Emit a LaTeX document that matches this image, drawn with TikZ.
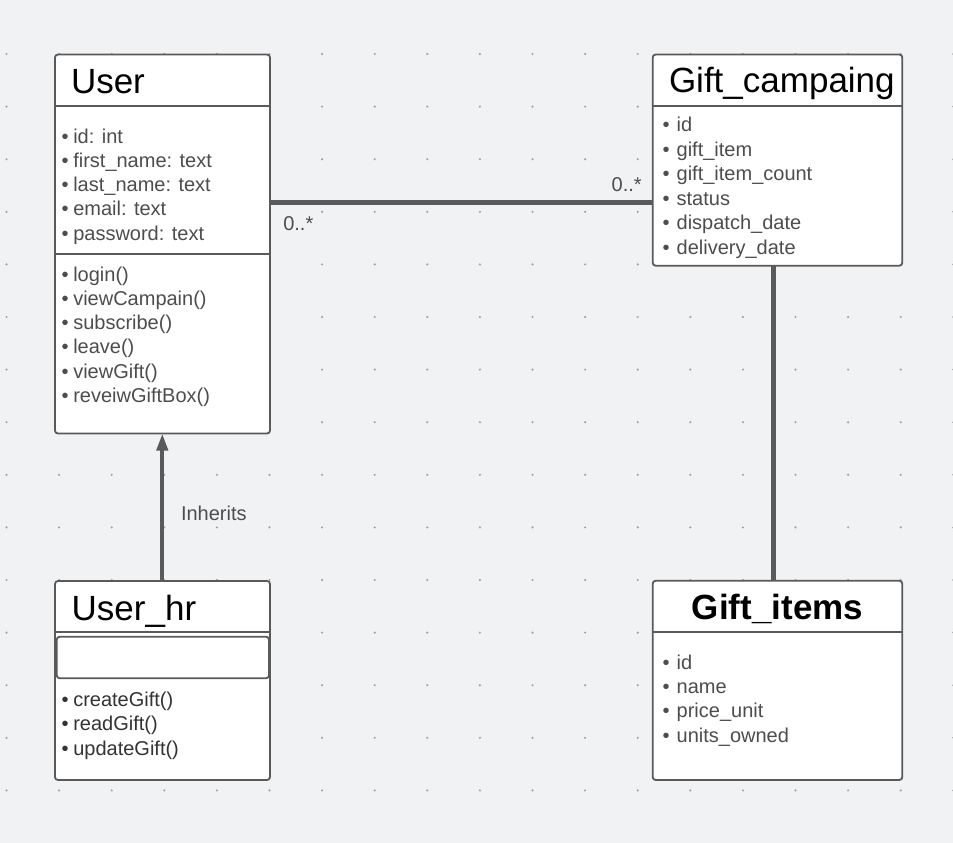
\documentclass[tikz,border=0pt]{standalone}
\usepackage{fontspec}
\setmainfont{Liberation Sans}
\usetikzlibrary{arrows.meta,calc}
\definecolor{bg}{HTML}{F1F2F4}
\definecolor{edge}{HTML}{5A5A5A}
\definecolor{dotc}{HTML}{A3A3A3}
\definecolor{txt}{HTML}{4D4D4D}
\definecolor{txtdark}{HTML}{333333}
\begin{document}
\begin{tikzpicture}[x=1pt,y=-1pt,
 classbox/.style={draw=edge,line width=1.8pt,fill=white,rounded corners=3pt,inner sep=0pt,outer sep=0pt,anchor=north west},
 sep/.style={draw=edge,line width=1.8pt},
 title/.style={anchor=base west,inner sep=0pt,outer sep=0pt,font=\fontsize{35}{40}\selectfont,text=black},
 item/.style={anchor=base west,inner sep=0pt,outer sep=0pt,font=\fontsize{20}{24}\selectfont,text=txt},
 conn/.style={draw=edge,line width=4.5pt},
]
\fill[bg] (0,0) rectangle (953,843);
\useasboundingbox (0,0) rectangle (953,843);
\foreach \i in {0,...,18} \foreach \j in {0,...,14} \fill[dotc] (6.5+52.6*\i, 54+52.6*\j) circle (1.2);

% boxes
\node[classbox,minimum width=215pt,minimum height=379pt] (user) at (55,54.5) {};
\node[classbox,minimum width=249.6pt,minimum height=211.2pt] (camp) at (652.7,54.5) {};
\node[classbox,minimum width=249.6pt,minimum height=199.3pt] (items) at (652.7,580.7) {};
\node[classbox,minimum width=215pt,minimum height=199pt] (hr) at (55,581) {};
\node[classbox,minimum width=212.3pt,minimum height=41.6pt] (hrattr) at (56.7,636.7) {};

% separators
\draw[sep] ($(user.north west)+(0,51.2)$) -- ($(user.north east)+(0,51.2)$);
\draw[sep] ($(user.north west)+(0,199.5)$) -- ($(user.north east)+(0,199.5)$);
\draw[sep] ($(camp.north west)+(0,51.2)$) -- ($(camp.north east)+(0,51.2)$);
\draw[sep] ($(items.north west)+(0,51)$) -- ($(items.north east)+(0,51)$);
\draw[sep] ($(hr.north west)+(0,50.7)$) -- ($(hr.north east)+(0,50.7)$);

% titles
\node[title] (userT) at (71,93.3) {User};
\node[title] (campT) at (669,92.7) {Gift\_campaing};
\node[title,anchor=base,font=\fontsize{35}{40}\selectfont\bfseries] (itemsT) at (777.5,619.3) {Gift\_items};
\node[title] (hrT) at (71.7,620) {User\_hr};

% User attributes and methods
\foreach \t [count=\i from 0] in {id: int,first\_name: text,last\_name: text,email: text,password: text}
  \node[item] (ua\i) at (61.5,143.3+24.2*\i) {\makebox[11.8pt][l]{\textbullet}\t};
\foreach \t [count=\i from 0] in {login(),viewCampain(),subscribe(),leave(),viewGift(),reveiwGiftBox()}
  \node[item] (um\i) at (61.5,281+24.3*\i) {\makebox[11.8pt][l]{\textbullet}\t};

% Gift_campaing attributes
\foreach \t [count=\i from 0] in {id,gift\_item,gift\_item\_count,status,dispatch\_date,delivery\_date}
  \node[item] (ca\i) at (662.5,131.7+24.5*\i) {\makebox[14.2pt][l]{\textbullet}\t};

% Gift_items attributes
\foreach \t [count=\i from 0] in {id,name,price\_unit,units\_owned}
  \node[item] (ia\i) at (662.5,669+24.4*\i) {\makebox[14.2pt][l]{\textbullet}\t};

% User_hr methods
\foreach \t [count=\i from 0] in {createGift(),readGift(),updateGift()}
  \node[item,text=txtdark] (hm\i) at (61.5,706+24.5*\i) {\makebox[11.8pt][l]{\textbullet}\t};

% connectors
\coordinate (assoc) at (0,202.5);
\coordinate (vx) at (773.3,0);
\coordinate (ax) at (162.3,0);
\draw[conn] (user.east |- assoc) -- (camp.west |- assoc);
\draw[conn] (camp.south -| vx) -- (items.north -| vx);
\draw[conn,line width=4pt,-{Triangle[length=17pt,width=11pt]}] (hr.north -| ax) -- (user.south -| ax);

% labels
\node[item] (m1) at (611.7,191.7) {0..*};
\node[item] (m2) at (283.3,230) {0..*};
\node[item] (inh) at (181,520.7) {Inherits};
\end{tikzpicture}
\end{document}
